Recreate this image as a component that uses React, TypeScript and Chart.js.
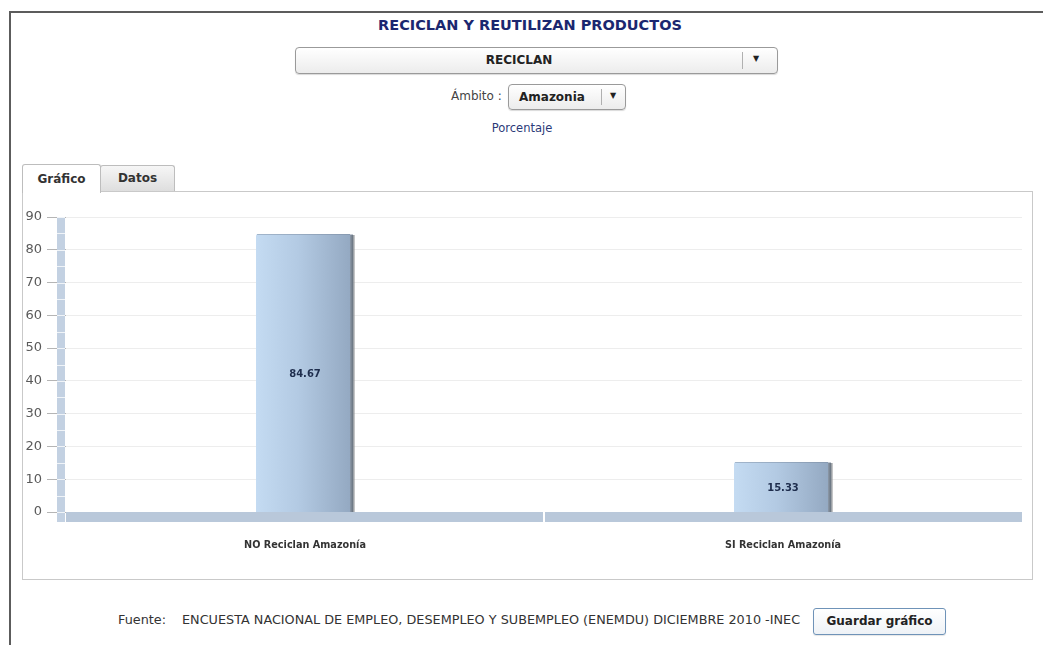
import React, { useEffect, useRef } from "react";
import { Chart, registerables } from "chart.js";

Chart.register(...registerables);

// ---- data ----
const categories: string[] = ["NO Reciclan Amazonía", "SI Reciclan Amazonía"];
const values: number[] = [84.67, 15.33];
const yMin = 0;
const yMax = 90;
const yStep = 10;
const wallStep = 5;

const FONT = "'DejaVu Sans', Verdana, sans-serif";

const decorPlugin = {
  id: "decor3d",
  beforeDatasetsDraw(chart: any) {
    const { ctx, chartArea: a, scales } = chart;
    const x = scales.x;
    const y = scales.y;
    const depth = 9;
    const floorH = 10;
    ctx.save();
    // wall
    const wallTop = y.getPixelForValue(yMax);
    const wx = a.left - depth;
    ctx.fillStyle = "#c3d1e2";
    ctx.fillRect(wx, wallTop, depth - 1, a.bottom + floorH - wallTop);
    ctx.fillStyle = "rgba(255,255,255,0.75)";
    for (let v = yMin; v <= yMax; v += wallStep) {
      const py = Math.round(y.getPixelForValue(v));
      ctx.fillRect(wx, py, depth - 1, 1);
    }
    // floor
    ctx.fillStyle = "#b9c8da";
    ctx.fillRect(a.left, a.bottom, a.right - a.left, floorH);
    ctx.fillStyle = "#ffffff";
    for (let i = 1; i < categories.length; i++) {
      const px = (x.getPixelForValue(i - 1) + x.getPixelForValue(i)) / 2;
      ctx.fillRect(Math.round(px) - 1, a.bottom, 2, floorH);
    }
    ctx.restore();
  },
  afterDatasetsDraw(chart: any) {
    const { ctx } = chart;
    const meta = chart.getDatasetMeta(0);
    ctx.save();
    meta.data.forEach((el: any, i: number) => {
      const { x, y, base, width } = el.getProps(["x", "y", "base", "width"], true);
      const left = Math.round(x - width / 2);
      const right = Math.round(x + width / 2);
      const top = Math.round(y);
      const bottom = Math.round(base);
      // shadow on right
      const sg = ctx.createLinearGradient(right - 4, 0, right + 1, 0);
      sg.addColorStop(0, "#8d9aaa");
      sg.addColorStop(0.5, "#6f7a86");
      sg.addColorStop(1, "rgba(150,150,150,0.4)");
      ctx.fillStyle = sg;
      ctx.fillRect(right - 4, top + 1, 5, bottom - top - 1);
      // body gradient
      const g = ctx.createLinearGradient(left, 0, right - 4, 0);
      g.addColorStop(0, "#c4dbf2");
      g.addColorStop(0.45, "#b3cae3");
      g.addColorStop(1, "#94a9c2");
      ctx.fillStyle = g;
      ctx.beginPath();
      const r = 2;
      ctx.moveTo(left, bottom);
      ctx.lineTo(left, top + r);
      ctx.quadraticCurveTo(left, top, left + r, top);
      ctx.lineTo(right - 4, top);
      ctx.lineTo(right - 4, bottom);
      ctx.closePath();
      ctx.fill();
      // top edge
      ctx.fillStyle = "rgba(120,135,155,0.45)";
      ctx.fillRect(left + 1, top, right - left - 2, 1);
      // label
      ctx.fillStyle = "#1e2d4d";
      ctx.font = "bold 10px " + FONT;
      ctx.textAlign = "center";
      ctx.textBaseline = "middle";
      ctx.fillText(values[i].toFixed(2), x, (top + bottom) / 2 + 1);
    });
    ctx.restore();
  },
};

function BarChart() {
  const ref = useRef<HTMLCanvasElement | null>(null);
  useEffect(() => {
    if (!ref.current) return;
    const chart = new Chart(ref.current, {
      type: "bar",
      data: {
        labels: categories,
        datasets: [
          {
            data: values,
            backgroundColor: "rgba(0,0,0,0)",
            borderWidth: 0,
            barPercentage: 0.203,
            categoryPercentage: 1,
          },
        ],
      },
      options: {
        animation: false,
        responsive: false,
        maintainAspectRatio: false,
        layout: { padding: { top: 25, right: 10, left: 0, bottom: 0 } },
        plugins: {
          legend: { display: false },
          tooltip: { enabled: false },
          title: { display: false },
        },
        scales: {
          x: {
            grid: { display: false, drawTicks: false },
            border: { display: false },
            ticks: {
              padding: 28,
              color: "#333",
              font: { family: FONT, size: 9.7, weight: "bold" },
              maxRotation: 0,
            },
            afterFit: (s: any) => {
              s.height = 67;
            },
          },
          y: {
            min: yMin,
            max: yMax,
            ticks: {
              stepSize: yStep,
              color: "#5a5a5a",
              font: { family: FONT, size: 13 },
              padding: 5,
            },
            grid: {
              color: "#ededed",
              tickColor: "#b5b5b5",
              tickLength: 19,
              drawTicks: true,
            },
            border: { display: false },
            afterFit: (s: any) => {
              s.width = 43;
            },
          },
        },
      },
      plugins: [decorPlugin],
    } as any);
    return () => chart.destroy();
  }, []);
  return (
    <canvas
      ref={ref}
      width={1009}
      height={387}
      style={{ position: "absolute", left: 23, top: 192, width: 1009, height: 387 }}
    />
  );
}

export default function App() {
  const txt: React.CSSProperties = { position: "absolute", fontFamily: FONT, fontSize: 12, whiteSpace: "nowrap" };
  return (
    <div
      style={{
        position: "absolute",
        left: 0,
        top: 0,
        width: 1043,
        height: 645,
        overflow: "hidden",
        background: "#fff",
      }}
    >
      {/* outer frame */}
      <div
        style={{
          position: "absolute",
          left: 9,
          top: 11,
          width: 1100,
          height: 700,
          borderTop: "2px solid #5c5c5c",
          borderLeft: "2px solid #5c5c5c",
        }}
      />
      {/* title */}
      <div
        style={{
          ...txt,
          left: 330,
          top: 17,
          width: 400,
          textAlign: "center",
          fontSize: 14.5,
          fontWeight: "bold",
          color: "#1b2770",
        }}
      >
        RECICLAN Y REUTILIZAN PRODUCTOS
      </div>
      {/* dropdown 1 */}
      <div
        style={{
          position: "absolute",
          left: 295,
          top: 47,
          width: 481,
          height: 25,
          border: "1px solid #9a9a9a",
          borderRadius: 4,
          background: "linear-gradient(#ffffff, #ececec)",
          boxShadow: "0 1px 1px rgba(0,0,0,0.15)",
        }}
      >
        <div style={{ ...txt, left: 0, width: 446, top: 5, textAlign: "center", fontWeight: "bold", color: "#222" }}>
          RECICLAN
        </div>
        <div style={{ position: "absolute", left: 446, top: 4, width: 1, height: 17, background: "#b0b0b0" }} />
        <div style={{ ...txt, left: 457, top: 6, fontSize: 8, color: "#222" }}>▼</div>
      </div>
      {/* ambito */}
      <div style={{ ...txt, left: 451, top: 89, color: "#444" }}>Ámbito :</div>
      <div
        style={{
          position: "absolute",
          left: 508,
          top: 84,
          width: 116,
          height: 24,
          border: "1px solid #9a9a9a",
          borderRadius: 4,
          background: "linear-gradient(#ffffff, #ececec)",
          boxShadow: "0 1px 1px rgba(0,0,0,0.15)",
        }}
      >
        <div style={{ ...txt, left: 10, top: 5, fontWeight: "bold", color: "#222" }}>Amazonia</div>
        <div style={{ position: "absolute", left: 92, top: 4, width: 1, height: 16, background: "#b0b0b0" }} />
        <div style={{ ...txt, left: 101, top: 6, fontSize: 8, color: "#222" }}>▼</div>
      </div>
      {/* porcentaje */}
      <div style={{ ...txt, left: 422, top: 121, width: 200, textAlign: "center", fontSize: 11.5, color: "#2b3a78" }}>
        Porcentaje
      </div>
      {/* panel */}
      <div
        style={{
          position: "absolute",
          left: 22,
          top: 191,
          width: 1009,
          height: 387,
          border: "1px solid #c9c9c9",
        }}
      />
      {/* tabs */}
      <div
        style={{
          position: "absolute",
          left: 100,
          top: 165,
          width: 73,
          height: 25,
          border: "1px solid #bdbdbd",
          borderBottom: "none",
          borderRadius: "3px 3px 0 0",
          background: "linear-gradient(#f6f6f6, #dedede)",
        }}
      >
        <div style={{ ...txt, left: 0, width: 73, top: 5, textAlign: "center", fontWeight: "bold", color: "#333" }}>
          Datos
        </div>
      </div>
      <div
        style={{
          position: "absolute",
          left: 22,
          top: 164,
          width: 77,
          height: 28,
          border: "1px solid #bdbdbd",
          borderBottom: "none",
          borderRadius: "3px 3px 0 0",
          background: "#fff",
        }}
      >
        <div style={{ ...txt, left: 0, width: 77, top: 7, textAlign: "center", fontWeight: "bold", color: "#333" }}>
          Gráfico
        </div>
      </div>
      <BarChart />
      {/* footer */}
      <div style={{ ...txt, left: 118, top: 612, fontSize: 12.8, color: "#333" }}>Fuente:</div>
      <div style={{ ...txt, left: 182, top: 612, fontSize: 12.8, color: "#333" }}>
        ENCUESTA NACIONAL DE EMPLEO, DESEMPLEO Y SUBEMPLEO (ENEMDU) DICIEMBRE 2010 -INEC
      </div>
      <div
        style={{
          position: "absolute",
          left: 813,
          top: 608,
          width: 131,
          height: 25,
          border: "1px solid #6f93b8",
          borderRadius: 3,
          background: "linear-gradient(#ffffff, #eef2f6)",
          boxShadow: "0 1px 1px rgba(0,0,0,0.1)",
        }}
      >
        <div style={{ ...txt, left: 0, width: 131, top: 5, textAlign: "center", fontWeight: "bold", color: "#222" }}>
          Guardar gráfico
        </div>
      </div>
    </div>
  );
}
